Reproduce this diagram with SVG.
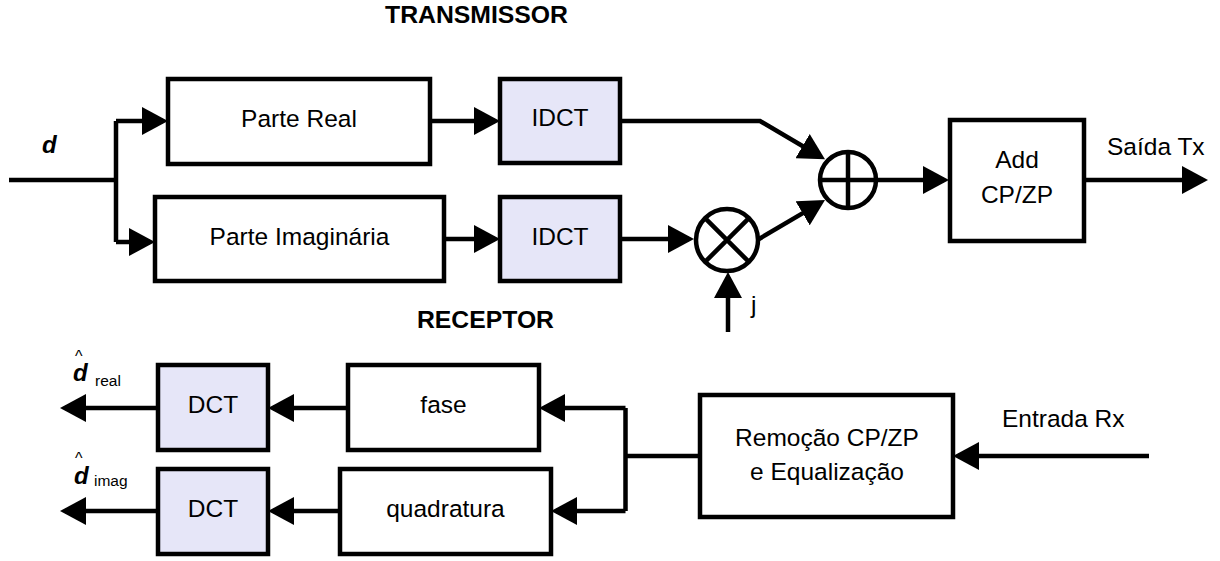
<svg xmlns="http://www.w3.org/2000/svg" width="1220" height="561" viewBox="0 0 1220 561">
<style>
.box{fill:#fff;stroke:#000;stroke-width:4.5}
.dct{fill:#e6e6f8;stroke:#000;stroke-width:4.5}
.ln{fill:none;stroke:#000;stroke-width:4.5}
.arr{fill:none;stroke:#000;stroke-width:4.5;marker-end:url(#ah)}
.t{font-family:"Liberation Sans",Arial,sans-serif;font-size:24.5px;fill:#000;text-anchor:middle}
.lbl{font-family:"Liberation Sans",Arial,sans-serif;font-size:24.5px;fill:#000}
.ttl{font-family:"Liberation Sans",Arial,sans-serif;font-size:23px;font-weight:bold;fill:#000;text-anchor:middle}
.dv{font-family:"Liberation Sans",Arial,sans-serif;font-size:24px;font-weight:bold;font-style:italic;fill:#000}
.sub{font-size:15.5px;font-weight:normal;font-style:normal}
.hat{font-size:16px;font-weight:normal;font-style:normal}
</style>
<defs>
<marker id="ah" markerUnits="userSpaceOnUse" markerWidth="26" markerHeight="28" refX="21" refY="14" orient="auto">
<path d="M0,0 L26,14 L0,28 Z" fill="#000"/>
</marker>
</defs>

<text class="ttl" x="476.5" y="23" textLength="183" lengthAdjust="spacingAndGlyphs">TRANSMISSOR</text>
<text class="ttl" x="485.5" y="328" textLength="137" lengthAdjust="spacingAndGlyphs">RECEPTOR</text>

<g id="connectors">
<path class="ln" d="M9,180 H116 M116,121 V242"/>
<path class="arr" d="M116,121 H163"/>
<path class="arr" d="M116,242 H150"/>
<path class="arr" d="M430,121 H495"/>
<path class="arr" d="M444,239 H495"/>
<path class="arr" d="M620,121 H760 L820.7,156.7"/>
<path class="arr" d="M620,239 H689"/>
<path class="arr" d="M759,239 L820.7,202.6"/>
<path class="arr" d="M728,332 V277"/>
<path class="arr" d="M877,180 H944"/>
<path class="arr" d="M1084,180 H1203"/>
<path class="arr" d="M1149,456 H958"/>
<path class="ln" d="M700,456 H625.5 M625.5,408 V511"/>
<path class="arr" d="M625.5,408 H544"/>
<path class="arr" d="M625.5,511 H556"/>
<path class="arr" d="M348,408 H273"/>
<path class="arr" d="M340,511 H273"/>
<path class="arr" d="M158,408 H65"/>
<path class="arr" d="M158,511 H65"/>
</g>

<g id="input-d"><text class="dv" x="42" y="153">d</text></g>

<g id="parte-real">
<rect class="box" x="168" y="79" width="262" height="85"/>
<text class="t" x="299" y="127">Parte Real</text>
</g>
<g id="parte-imag">
<rect class="box" x="155" y="197" width="289" height="84"/>
<text class="t" x="299.5" y="245">Parte Imaginária</text>
</g>
<g id="idct1">
<rect class="dct" x="500" y="79" width="120" height="84"/>
<text class="t" x="560" y="126">IDCT</text>
</g>
<g id="idct2">
<rect class="dct" x="500" y="197" width="120" height="84"/>
<text class="t" x="560" y="245">IDCT</text>
</g>
<g id="mult">
<circle class="box" cx="727" cy="240" r="31"/>
<path class="ln" d="M705.1,218.1 L748.9,261.9 M748.9,218.1 L705.1,261.9"/>
</g>
<g id="j-label"><text class="lbl" x="751" y="313">j</text></g>
<g id="sum">
<circle class="box" cx="848" cy="180" r="28"/>
<path class="ln" d="M848,152 V208 M820,180 H876"/>
</g>
<g id="addcp">
<rect class="box" x="950" y="120" width="134" height="121"/>
<text class="t" x="1017" y="168">Add</text>
<text class="t" x="1017" y="203">CP/ZP</text>
</g>
<g id="saida"><text class="lbl" x="1107" y="155">Saída Tx</text></g>

<g id="remocao">
<rect class="box" x="700" y="395" width="253" height="122"/>
<text class="t" x="827" y="446">Remoção CP/ZP</text>
<text class="t" x="827" y="480">e Equalização</text>
</g>
<g id="entrada"><text class="lbl" x="1002" y="427">Entrada Rx</text></g>
<g id="fase">
<rect class="box" x="348" y="365" width="191" height="85"/>
<text class="t" x="443.5" y="413">fase</text>
</g>
<g id="quadratura">
<rect class="box" x="340" y="469" width="211" height="85"/>
<text class="t" x="445.5" y="517">quadratura</text>
</g>
<g id="dct1">
<rect class="dct" x="158" y="365" width="110" height="85"/>
<text class="t" x="213" y="413">DCT</text>
</g>
<g id="dct2">
<rect class="dct" x="158" y="469" width="110" height="85"/>
<text class="t" x="213" y="517">DCT</text>
</g>
<g id="dreal">
<text class="dv" x="73" y="381">d<tspan class="sub" x="95" y="386">real</tspan><tspan class="hat" x="75" y="362">^</tspan></text>
</g>
<g id="dimag">
<text class="dv" x="74" y="484">d<tspan class="sub" x="94" y="486">imag</tspan><tspan class="hat" x="75" y="464">^</tspan></text>
</g>
</svg>
